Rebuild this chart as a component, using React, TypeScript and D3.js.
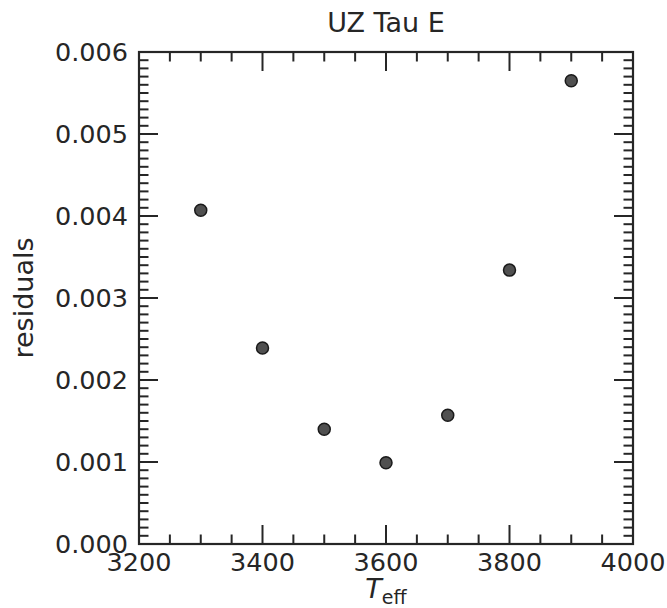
import React from "react";
import * as d3 from "d3";

const teff = [3300, 3400, 3500, 3600, 3700, 3800, 3900];
const residuals = [0.00407, 0.00239, 0.00140, 0.00099, 0.00157, 0.00334, 0.00565];
const xMajorTicks = [3200, 3400, 3600, 3800, 4000];
const yMajorTicks = [0, 0.001, 0.002, 0.003, 0.004, 0.005, 0.006];
const titleText = "UZ Tau E";
const yLabelText = "residuals";

const W = 667;
const H = 608;
const M = { left: 139, right: 633, top: 52, bottom: 544 };
const INK = "#262626";
const FONT = "DejaVu Sans, sans-serif";

export default function App() {
  const x = d3.scaleLinear().domain([3200, 4000]).range([M.left, M.right]);
  const y = d3.scaleLinear().domain([0, 0.006]).range([M.bottom, M.top]);
  const xMinor = d3.range(3200, 4000.001, 50).filter((v) => !xMajorTicks.includes(v));
  const yMinor = d3.range(0, 61).map((i) => i / 10000).filter((_, i) => i % 10 !== 0);
  const fmt = d3.format(".3f");
  const majL = 19;
  const minL = 9.5;
  return (
    <svg width={W} height={H} style={{ position: "absolute", left: 0, top: 0 }} fontFamily={FONT}>
      <rect width={W} height={H} fill="white" />
      {/* x ticks */}
      {xMajorTicks.map((v) => (
        <g key={"xM" + v}>
          <line x1={x(v)} x2={x(v)} y1={M.bottom} y2={M.bottom - majL} stroke={INK} strokeWidth={2} />
          <line x1={x(v)} x2={x(v)} y1={M.top} y2={M.top + majL} stroke={INK} strokeWidth={2} />
          <text x={x(v)} y={571} textAnchor="middle" fontSize={25.5} fill={INK}>{v}</text>
        </g>
      ))}
      {xMinor.map((v) => (
        <g key={"xm" + v}>
          <line x1={x(v)} x2={x(v)} y1={M.bottom} y2={M.bottom - minL} stroke={INK} strokeWidth={2} />
          <line x1={x(v)} x2={x(v)} y1={M.top} y2={M.top + minL} stroke={INK} strokeWidth={2} />
        </g>
      ))}
      {yMajorTicks.map((v) => (
        <g key={"yM" + v}>
          <line x1={M.left} x2={M.left + majL} y1={y(v)} y2={y(v)} stroke={INK} strokeWidth={2} />
          <line x1={M.right} x2={M.right - majL} y1={y(v)} y2={y(v)} stroke={INK} strokeWidth={2} />
          <text x={M.left - 11} y={y(v) + 9.3} textAnchor="end" fontSize={25.5} fill={INK}>{fmt(v)}</text>
        </g>
      ))}
      {yMinor.map((v, i) => (
        <g key={"ym" + i}>
          <line x1={M.left} x2={M.left + minL} y1={y(v)} y2={y(v)} stroke={INK} strokeWidth={2} />
          <line x1={M.right} x2={M.right - minL} y1={y(v)} y2={y(v)} stroke={INK} strokeWidth={2} />
        </g>
      ))}
      <rect x={M.left} y={M.top} width={M.right - M.left} height={M.bottom - M.top} fill="none" stroke={INK} strokeWidth={2.2} />
      {teff.map((t, i) => (
        <circle key={t} cx={x(t)} cy={y(residuals[i])} r={6} fill="#505050" stroke="#1a1a1a" strokeWidth={1.5} />
      ))}
      <text x={(M.left + M.right) / 2} y={32} textAnchor="middle" fontSize={27} fill={INK}>{titleText}</text>
      <text transform={`translate(33,${(M.top + M.bottom) / 2}) rotate(-90)`} textAnchor="middle" fontSize={27} fill={INK}>{yLabelText}</text>
      <text x={(M.left + M.right) / 2} y={598} textAnchor="middle" fontSize={27} fill={INK}>
        <tspan fontStyle="italic">T</tspan>
        <tspan fontSize={19} dy={6}>eff</tspan>
      </text>
    </svg>
  );
}
